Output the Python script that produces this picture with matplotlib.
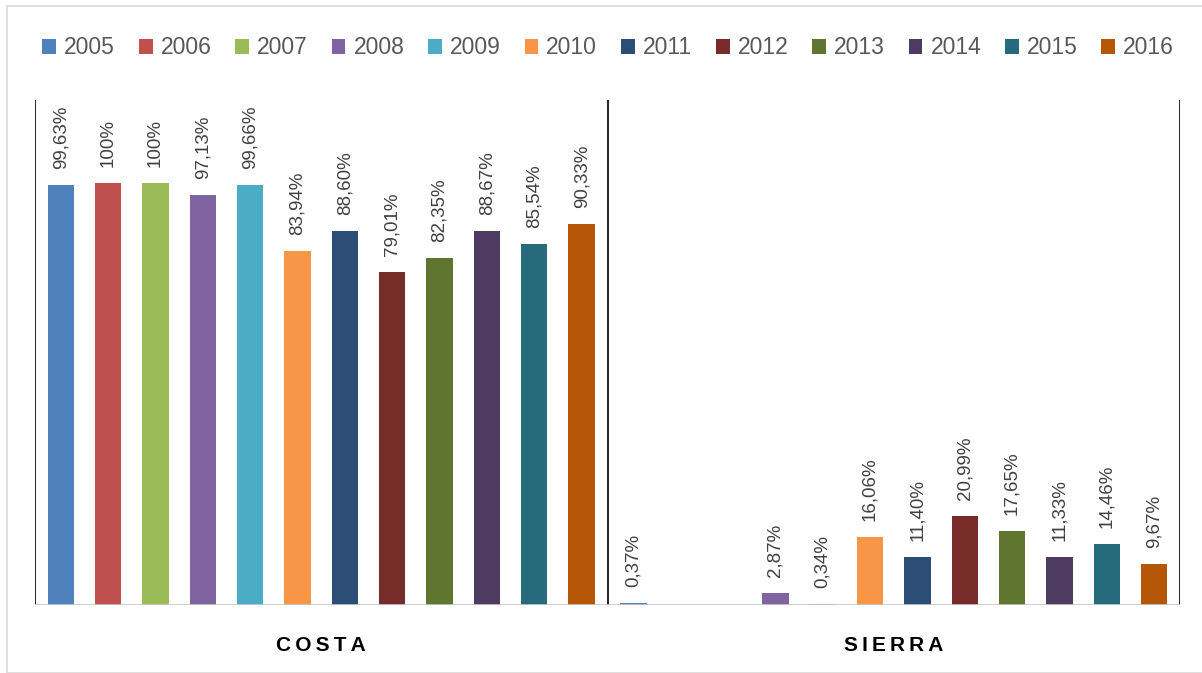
import matplotlib.pyplot as plt
from matplotlib.patches import Rectangle, Patch

years = ["2005", "2006", "2007", "2008", "2009", "2010",
         "2011", "2012", "2013", "2014", "2015", "2016"]
regions = ["COSTA", "SIERRA"]
costa = [99.63, 100, 100, 97.13, 99.66, 83.94, 88.60, 79.01, 82.35, 88.67, 85.54, 90.33]
sierra = [0.37, 0, 0, 2.87, 0.34, 16.06, 11.40, 20.99, 17.65, 11.33, 14.46, 9.67]
costa_labels = ["99,63%", "100%", "100%", "97,13%", "99,66%", "83,94%",
                "88,60%", "79,01%", "82,35%", "88,67%", "85,54%", "90,33%"]
sierra_labels = ["0,37%", "", "", "2,87%", "0,34%", "16,06%",
                 "11,40%", "20,99%", "17,65%", "11,33%", "14,46%", "9,67%"]
colors = ["#4F81BD", "#C0504D", "#9BBB59", "#8064A2", "#4BACC6", "#F79646",
          "#2C4D75", "#772C2A", "#5F7530", "#4D3B62", "#276A7C", "#B65708"]

plt.rcParams["font.family"] = ["Liberation Sans", "DejaVu Sans"]

W, H = 1202, 673
fig = plt.figure(figsize=(W / 100, H / 100), dpi=100)
fig.patches.append(Rectangle((7 / W, 0), 1.5, 1 - 6 / H, transform=fig.transFigure,
                             facecolor="none", edgecolor="#d9d9d9", lw=1.2))

ax = fig.add_axes([35 / W, 1 - 605 / H, (1180 - 35) / W, (605 - 100) / H])

step = 0.0827
width = 0.046
series = list(zip(costa, sierra))
label_sets = list(zip(costa_labels, sierra_labels))
for j, year in enumerate(years):
    xs = [i + 0.5 + (j - 5.5) * step for i in range(len(regions))]
    bars = ax.bar(xs, series[j], width=width, color=colors[j], label=year)
    for b, lab in zip(bars, label_sets[j]):
        if lab:
            ax.annotate(lab, (b.get_x() + b.get_width() / 2, b.get_height()),
                        xytext=(0, 11.5), textcoords="offset points",
                        rotation=90, ha="center", va="bottom",
                        fontsize=13.5, color="#404040")

ax.set_xlim(0, 2)
ax.set_ylim(0, 119.7)
for x in [0, 1, 2]:
    ax.axvline(x, color="black", lw=1.2)
ax.axhline(0, color="#c8c8c8", lw=1.2)
for s in ax.spines.values():
    s.set_visible(False)
ax.set_yticks([])
ax.set_xticks([0.5, 1.5])
ax.set_xticklabels(["\u2009".join(r) for r in regions], fontsize=15,
                   fontweight="bold", color="black")
ax.tick_params(axis="x", length=0, pad=22)

handles = [Patch(facecolor=c, label=y) for c, y in zip(colors, years)]
leg = fig.legend(handles=handles, loc="center", bbox_to_anchor=(0.506, 1 - 48 / H),
                 ncol=12, frameon=False, fontsize=16.5, handlelength=0.6,
                 handleheight=0.6, handletextpad=0.35, columnspacing=1.04)
for t in leg.get_texts():
    t.set_color("#595959")

fig.savefig("out.png", dpi=100)
